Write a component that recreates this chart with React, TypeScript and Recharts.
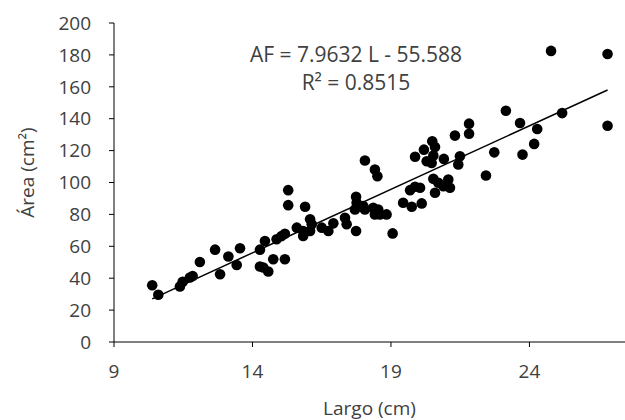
import React from 'react';
import { ScatterChart, Scatter, XAxis, YAxis } from 'recharts';

// Largo (cm) and Área (cm²)
const largo = [
  10.38, 10.6, 11.38, 11.48, 11.74, 11.84, 12.1, 12.65, 12.83, 13.13,
  13.43, 13.55, 14.27, 14.27, 14.39, 14.57, 14.45, 14.75, 14.87, 15.05,
  15.17, 15.17, 15.29, 15.29, 15.6, 15.9, 15.83, 15.83, 16.08, 16.14,
  16.08, 16.5, 16.74, 16.92, 17.34, 17.4, 17.74, 17.74, 17.76, 17.7,
  18.06, 18.42, 18.51, 18.0, 18.06, 18.36, 18.54, 18.42, 18.6, 18.84,
  19.06, 19.44, 19.75, 20.11, 19.69, 19.87, 20.05, 19.87, 20.19, 20.49,
  20.59, 20.29, 20.47, 20.53, 20.91, 20.53, 20.71, 20.59, 20.89, 21.07,
  21.13, 21.31, 21.49, 21.43, 21.82, 21.82, 23.15, 23.66, 24.28, 24.17,
  23.75, 22.73, 22.43, 24.78, 26.82, 26.82, 25.18,
];
const area = [
  35.6, 29.6, 34.8, 37.7, 40.4, 41.4, 50.2, 57.9, 42.5, 53.6,
  48.3, 58.8, 57.9, 47.3, 46.7, 44.2, 63.3, 51.9, 64.4, 66.4,
  67.9, 51.9, 95.2, 85.8, 71.7, 84.8, 69.6, 66.5, 76.9, 73.8,
  69.6, 71.7, 69.6, 74.4, 77.9, 73.8, 69.6, 91.0, 87.3, 83.1,
  113.8, 108.1, 103.9, 85.2, 83.1, 84.2, 83.1, 80, 80, 80,
  68.1, 87.3, 84.8, 86.9, 95.2, 97.3, 96.7, 116.1, 120.6, 125.8,
  122.3, 113.3, 112.3, 116.9, 114.8, 102.3, 99.8, 93.6, 97.7, 101.9,
  96.7, 129.4, 116.4, 111.3, 136.9, 130.6, 145, 137.3, 133.5, 124.2,
  117.5, 118.9, 104.4, 182.5, 180.6, 135.6, 143.5,
];

const xTicks = [9, 14, 19, 24];
const yTicks = [0, 20, 40, 60, 80, 100, 120, 140, 160, 180, 200];

// trendline AF = 7.9632 L - 55.588
const slope = 7.9632;
const intercept = -55.588;
const trendX = [Math.min(...largo), Math.max(...largo)];

const points = largo.map((x, i) => ({ x, y: area[i] }));
const trend = trendX.map((x) => ({ x, y: slope * x + intercept }));

const font = "'Open Sans', sans-serif";
const textColor = '#404040';
const tickStyle = { fontSize: 19, fill: textColor, fontFamily: font };

const Dot = (props: any) => <circle cx={props.cx} cy={props.cy} r={5.3} fill="#000" />;

export default function App() {
  return (
    <div style={{ position: 'relative', width: 625, height: 420, background: '#fff' }}>
      <style>{'body{margin:0}'}</style>
      <ScatterChart width={625} height={420} margin={{ top: 23, right: 0, bottom: 0, left: 0 }}>
        <XAxis
          type="number"
          dataKey="x"
          domain={[9, 27.45]}
          ticks={xTicks}
          height={78}
          tickSize={5}
          tickMargin={18}
          stroke="#000"
          tick={tickStyle}
          allowDataOverflow
          label={{ value: 'Largo (cm)', position: 'insideBottom', offset: 5, style: { ...tickStyle, textAnchor: 'middle' } }}
        />
        <YAxis
          type="number"
          dataKey="y"
          domain={[0, 200]}
          ticks={yTicks}
          width={114}
          tickSize={5}
          tickMargin={18}
          stroke="#000"
          tick={tickStyle}
          label={{ value: 'Área (cm²)', angle: -90, position: 'insideLeft', offset: 27, dy: -10, style: { ...tickStyle, textAnchor: 'middle' } }}
        />
        <Scatter data={points} shape={Dot} isAnimationActive={false} />
        <Scatter
          data={trend}
          line={{ stroke: '#000', strokeWidth: 1.5 }}
          shape={() => <g />}
          isAnimationActive={false}
        />
      </ScatterChart>
      <div
        style={{
          position: 'absolute',
          left: 206,
          top: 40,
          width: 300,
          textAlign: 'center',
          fontFamily: font,
          fontSize: 21,
          color: textColor,
          lineHeight: '28px',
        }}
      >
        <div>AF = 7.9632 L - 55.588</div>
        <div>R² = 0.8515</div>
      </div>
    </div>
  );
}
